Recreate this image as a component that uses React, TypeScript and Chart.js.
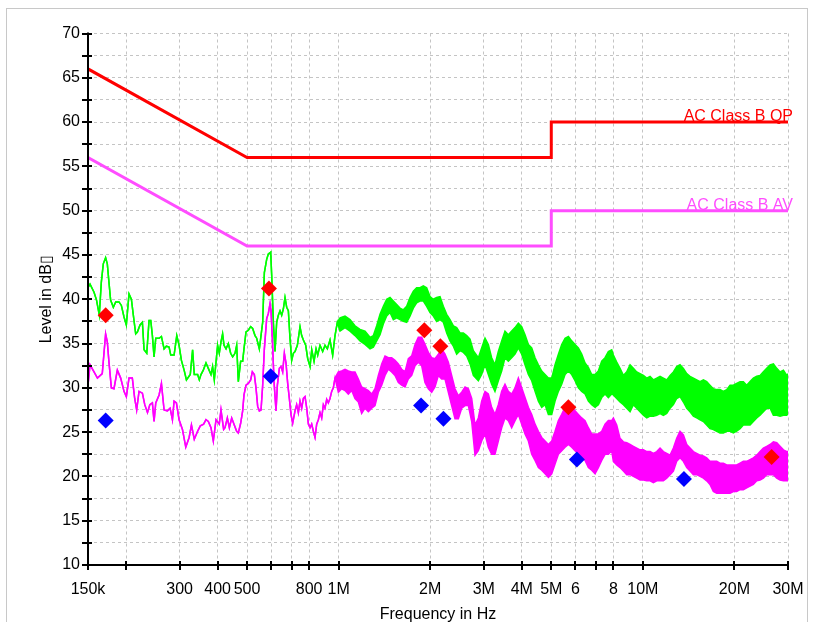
import React, { useEffect, useRef } from 'react';
import { Chart, registerables } from 'chart.js';

Chart.register(...registerables);

// ---------- axes ----------
const xTickValues = [0.15, 0.2, 0.3, 0.4, 0.5, 0.6, 0.7, 0.8, 1, 2, 3, 4, 5, 6, 7, 8, 10, 20, 30];
const xTickLabels = ['150k', '', '300', '400', '500', '', '', '800', '1M', '2M', '3M', '4M', '5M', '6', '', '8', '10M', '20M', '30M'];
const yMin = 10;
const yMax = 70;
const yStep = 2.5;

// ---------- limit lines (MHz, dBµV) ----------
const qpLimit: [number, number][] = [[0.15, 66], [0.5, 56], [5, 56], [5, 60], [30, 60]];
const avLimit: [number, number][] = [[0.15, 56], [0.5, 46], [5, 46], [5, 50], [30, 50]];
const qpLimitLabel = 'AC Class B QP';
const avLimitLabel = 'AC Class B AV';

// ---------- final measurement markers ----------
const qpMarkers: [number, number][] = [[0.1715, 38.2], [0.59, 41.2], [1.913, 36.5], [2.16, 34.7], [5.69, 27.8], [26.5, 22.2]];
const avMarkers: [number, number][] = [[0.1715, 26.3], [0.598, 31.3], [1.866, 28.0], [2.21, 26.5], [6.07, 21.9], [13.65, 19.7]];

// ---------- peak scan (green) ----------
const peakLine: [number, number][] = [
  [0.15, 41.3], [0.1523, 41.7], [0.157, 40.8], [0.16, 39.9], [0.1634, 38.2], [0.1659, 41.9], [0.1684, 44.0], [0.1714, 44.7],
  [0.1736, 44.0], [0.1758, 41.9], [0.178, 39.9], [0.1817, 39.1], [0.185, 39.7], [0.1897, 39.7], [0.1931, 39.3], [0.197, 38.0],
  [0.2005, 37.1], [0.2046, 40.6], [0.2083, 40.0], [0.2114, 38.2], [0.2152, 36.1], [0.218, 36.3], [0.2224, 37.1], [0.2264, 37.4],
  [0.2293, 34.3], [0.234, 33.9], [0.2381, 37.6], [0.2412, 37.6], [0.2442, 35.9], [0.2473, 33.5], [0.2505, 35.6], [0.2569, 35.6],
  [0.2615, 35.8], [0.2668, 34.4], [0.2715, 34.7], [0.2771, 34.6], [0.2806, 33.7], [0.2878, 33.7], [0.2937, 35.9], [0.2989, 34.8],
  [0.3042, 33.1], [0.3105, 32.0], [0.316, 30.9], [0.3253, 31.5], [0.3311, 34.3], [0.3353, 31.5], [0.3439, 31.5], [0.3483, 30.9],
  [0.3528, 31.5], [0.359, 32.0], [0.3664, 32.8], [0.3729, 32.2], [0.3805, 31.5], [0.3852, 32.4], [0.3902, 30.9], [0.4001, 34.8],
  [0.4052, 33.9], [0.4104, 35.2], [0.4155, 36.1], [0.42, 34.8], [0.4264, 34.4], [0.434, 35.0], [0.4416, 33.9], [0.4484, 33.5],
  [0.4563, 33.9], [0.4622, 34.8], [0.468, 30.7], [0.4763, 33.0], [0.4836, 33.0], [0.4885, 34.4], [0.496, 36.3], [0.5048, 36.5],
  [0.5138, 36.9], [0.5216, 36.7], [0.531, 35.9], [0.5377, 35.6], [0.5487, 34.4], [0.5543, 35.6], [0.5627, 37.4], [0.5699, 43.0],
  [0.58, 44.5], [0.5874, 45.1], [0.5979, 45.3], [0.6024, 42.7], [0.6101, 37.4], [0.6178, 34.1], [0.6256, 37.4], [0.6336, 38.2],
  [0.6417, 38.7], [0.6497, 38.2], [0.658, 38.9], [0.6663, 40.2], [0.6748, 39.1], [0.6834, 38.7], [0.692, 35.6], [0.7008, 33.1],
  [0.7098, 33.9], [0.7188, 34.1], [0.7316, 34.8], [0.7465, 36.9], [0.756, 35.9], [0.7657, 35.4], [0.7793, 34.8], [0.7912, 33.3],
  [0.8054, 32.4], [0.8157, 34.3], [0.8301, 33.0], [0.8428, 34.4], [0.8534, 33.7], [0.8685, 34.8], [0.8862, 34.1], [0.902, 34.8],
  [0.918, 34.4], [0.9367, 35.4], [0.9558, 33.7], [0.9729, 35.9], [0.9902, 37.4],
];
// dense part of the peak scan: [frequency, upper, lower]
const peakBand: [number, number, number][] = [
  [1.0104, 37.9, 36.4], [1.0494, 38.1, 36.8], [1.0899, 37.7, 36.4], [1.1318, 37.0, 35.9], [1.1754, 36.6, 35.3], [1.2208, 36.4, 34.9],
  [1.2679, 35.7, 34.4], [1.3005, 35.9, 34.6], [1.3337, 37.0, 35.3], [1.3678, 38.3, 36.0], [1.4025, 39.2, 37.2], [1.4385, 40.0, 38.1],
  [1.4752, 40.2, 38.5], [1.5129, 39.8, 37.7], [1.5516, 39.4, 37.9], [1.5911, 39.0, 37.7], [1.6318, 38.8, 37.5], [1.6735, 39.2, 37.4],
  [1.7161, 40.2, 38.1], [1.76, 40.9, 39.0], [1.8048, 41.3, 39.6], [1.851, 41.3, 39.8], [1.8984, 41.5, 39.8], [1.9469, 41.3, 39.2],
  [1.9967, 40.3, 38.5], [2.0474, 40.0, 38.1], [2.1, 40.2, 37.5], [2.154, 40.3, 37.7], [2.2088, 39.2, 37.4], [2.2655, 38.3, 36.2],
  [2.3232, 37.7, 35.3], [2.3828, 37.0, 34.7], [2.4434, 36.8, 33.8], [2.506, 36.2, 34.2], [2.57, 36.2, 34.0], [2.636, 35.9, 33.6],
  [2.703, 35.5, 32.7], [2.772, 34.2, 31.4], [2.879, 33.4, 30.8], [2.952, 34.5, 31.5], [3.028, 35.6, 32.6], [3.105, 34.9, 31.5],
  [3.184, 33.4, 30.4], [3.265, 32.6, 29.6], [3.349, 34.1, 30.8], [3.435, 35.3, 31.9], [3.522, 36.4, 33.4], [3.612, 36.0, 33.0],
  [3.705, 36.4, 33.4], [3.8, 36.8, 33.8], [3.897, 37.3, 34.5], [3.997, 36.9, 33.8], [4.099, 36.0, 32.6], [4.204, 34.9, 31.5],
  [4.312, 34.5, 30.8], [4.422, 33.4, 29.6], [4.535, 32.6, 28.5], [4.651, 31.9, 27.8], [4.77, 31.5, 28.1], [4.892, 31.1, 27.0],
  [5.017, 31.1, 27.0], [5.145, 32.6, 28.5], [5.277, 33.8, 29.6], [5.411, 34.9, 30.4], [5.55, 35.6, 31.5], [5.692, 35.8, 31.9],
  [5.836, 35.3, 31.5], [5.985, 34.9, 30.8], [6.138, 34.5, 30.0], [6.295, 33.8, 29.6], [6.456, 32.8, 29.3], [6.621, 32.3, 28.5],
  [6.79, 31.5, 28.1], [6.963, 31.5, 27.8], [7.141, 31.9, 28.1], [7.324, 33.0, 28.9], [7.511, 33.4, 29.3], [7.703, 34.1, 28.9],
  [7.899, 34.3, 29.3], [8.0, 33.7, 29.2], [8.205, 32.9, 28.8], [8.414, 32.2, 28.4], [8.63, 31.4, 28.1], [8.852, 31.8, 27.7],
  [9.077, 32.6, 27.3], [9.309, 32.2, 28.1], [9.546, 31.8, 27.7], [9.791, 31.6, 27.3], [10.04, 31.4, 26.9], [10.3, 31.1, 26.6],
  [10.56, 31.3, 26.8], [10.83, 30.9, 26.8], [11.11, 31.1, 26.9], [11.39, 31.3, 27.1], [11.68, 31.1, 26.9], [11.98, 30.9, 27.1],
  [12.29, 31.4, 27.7], [12.6, 31.8, 28.1], [12.92, 32.4, 28.8], [13.25, 32.6, 29.0], [13.59, 32.2, 28.4], [13.94, 31.6, 27.7],
  [14.29, 31.3, 27.3], [14.66, 31.1, 26.8], [15.03, 30.9, 26.6], [15.42, 30.7, 26.4], [15.81, 30.9, 26.2], [16.21, 30.7, 25.8],
  [16.62, 30.3, 25.4], [17.05, 29.9, 25.3], [17.49, 29.8, 25.1], [17.93, 29.8, 24.9], [18.39, 29.6, 24.9], [18.86, 29.8, 25.1],
  [19.35, 30.3, 25.1], [19.84, 30.3, 24.9], [20.34, 30.5, 25.1], [20.87, 30.7, 25.4], [21.4, 30.7, 25.8], [21.94, 30.3, 25.8],
  [22.51, 30.7, 25.8], [23.08, 31.1, 26.2], [23.68, 31.3, 26.6], [24.28, 31.4, 26.9], [24.9, 31.8, 27.3], [25.54, 32.2, 27.7],
  [26.19, 32.6, 27.7], [26.86, 32.7, 26.9], [27.55, 32.2, 26.9], [28.25, 31.8, 26.8], [28.98, 32.0, 26.9], [29.72, 31.4, 26.9],
  [30, 31.6, 27.1],
];

// ---------- average scan (magenta) ----------
const avgLine: [number, number][] = [
  [0.15, 30.3], [0.1523, 32.6], [0.157, 31.8], [0.1611, 31.1], [0.1671, 31.6], [0.1714, 36.1], [0.1736, 35.2], [0.1758, 32.9],
  [0.179, 30.0], [0.1826, 29.9], [0.1873, 32.0], [0.1921, 31.1], [0.197, 29.6], [0.2005, 29.0], [0.2046, 31.1], [0.2098, 31.1],
  [0.2136, 28.8], [0.2168, 27.5], [0.2207, 29.6], [0.2264, 29.4], [0.2305, 28.1], [0.2353, 27.2], [0.2395, 28.1], [0.2442, 28.3],
  [0.2473, 26.2], [0.2505, 28.3], [0.2569, 29.2], [0.2615, 30.5], [0.2668, 27.5], [0.2736, 27.4], [0.2792, 27.7], [0.2842, 26.4],
  [0.2878, 28.5], [0.2929, 28.3], [0.2989, 26.4], [0.3066, 25.3], [0.3144, 23.3], [0.3225, 24.4], [0.3282, 25.8], [0.3353, 24.2],
  [0.3439, 25.1], [0.351, 25.7], [0.3599, 25.9], [0.3663, 26.4], [0.3729, 26.2], [0.3805, 25.5], [0.3873, 24.0], [0.3953, 26.4],
  [0.4052, 25.9], [0.4104, 27.5], [0.4187, 25.3], [0.4231, 25.5], [0.4307, 26.6], [0.4373, 25.5], [0.4451, 26.6], [0.4529, 25.9],
  [0.4622, 25.1], [0.468, 24.9], [0.4763, 26.0], [0.4836, 27.4], [0.4885, 29.2], [0.496, 30.3], [0.5048, 30.5], [0.5138, 30.9],
  [0.5203, 31.8], [0.5283, 31.5], [0.535, 30.0], [0.5418, 27.9], [0.5487, 27.4], [0.5557, 27.5], [0.5627, 30.3], [0.5699, 34.4],
  [0.58, 37.8], [0.5874, 38.4], [0.5949, 39.5], [0.5994, 38.7], [0.6054, 35.6], [0.6132, 30.7], [0.6225, 27.4], [0.6289, 30.3],
  [0.6384, 32.2], [0.6466, 32.4], [0.6547, 31.8], [0.663, 33.9], [0.6714, 32.8], [0.68, 30.5], [0.6885, 28.8], [0.6972, 27.0],
  [0.7061, 26.0], [0.7188, 27.4], [0.7278, 28.1], [0.7371, 27.2], [0.7465, 28.5], [0.756, 27.7], [0.7657, 28.8], [0.7754, 29.0],
  [0.7853, 27.7], [0.7952, 25.9], [0.8054, 25.5], [0.8154, 25.9], [0.8258, 25.1], [0.8363, 24.4], [0.8469, 25.9], [0.8577, 26.4],
  [0.8685, 27.2], [0.8796, 26.6], [0.8907, 28.1], [0.902, 27.7], [0.9135, 28.7], [0.9249, 28.3], [0.9367, 28.8], [0.9486, 29.6],
  [0.9606, 30.0], [0.9729, 31.1],
];
const avgBand: [number, number, number][] = [
  [0.9978, 31.8, 29.5], [1.0233, 31.9, 29.9], [1.0494, 32.1, 29.7], [1.0761, 31.9, 29.3], [1.1037, 31.8, 29.7], [1.1318, 31.8, 28.8],
  [1.1609, 31.0, 28.4], [1.1903, 30.1, 27.1], [1.2208, 29.9, 27.7], [1.2522, 29.7, 27.3], [1.2842, 29.3, 27.7], [1.317, 29.9, 28.0],
  [1.3506, 31.4, 29.5], [1.3853, 32.7, 30.3], [1.4205, 33.6, 31.4], [1.4568, 33.4, 32.1], [1.4939, 33.4, 31.8], [1.5321, 33.1, 31.4],
  [1.5714, 32.7, 30.6], [1.6113, 32.1, 30.3], [1.6526, 31.8, 30.1], [1.6947, 33.3, 31.0], [1.7382, 33.6, 31.4], [1.7828, 34.9, 32.5],
  [1.8279, 35.7, 32.9], [1.8747, 35.7, 32.5], [1.9223, 34.9, 30.6], [1.9715, 34.0, 29.9], [2.022, 33.4, 29.5], [2.0735, 33.3, 30.1],
  [2.1266, 33.8, 31.4], [2.1809, 34.4, 31.0], [2.2368, 33.8, 31.0], [2.2941, 32.9, 29.5], [2.3523, 31.4, 28.0], [2.4126, 29.9, 26.5],
  [2.4744, 29.1, 26.5], [2.5379, 29.5, 27.7], [2.603, 30.1, 28.0], [2.6693, 29.9, 28.0], [2.7377, 28.8, 26.2], [2.8073, 25.8, 22.4],
  [2.879, 26.6, 22.9], [2.952, 28.5, 24.0], [3.028, 29.6, 24.8], [3.105, 29.3, 23.3], [3.184, 27.8, 22.5], [3.265, 27.0, 22.5],
  [3.349, 28.1, 24.0], [3.435, 29.6, 25.5], [3.522, 30.4, 26.6], [3.612, 29.6, 26.3], [3.705, 29.3, 25.5], [3.8, 30.0, 26.3],
  [3.897, 31.1, 27.0], [3.997, 30.0, 25.9], [4.099, 28.9, 24.8], [4.204, 27.8, 24.0], [4.312, 27.0, 22.5], [4.422, 25.9, 21.8],
  [4.535, 25.1, 21.0], [4.651, 24.4, 20.7], [4.77, 24.0, 20.3], [4.892, 23.6, 19.9], [5.017, 24.0, 20.3], [5.145, 25.1, 21.4],
  [5.277, 26.3, 22.5], [5.411, 27.0, 22.9], [5.55, 27.8, 23.3], [5.692, 28.1, 23.6], [5.836, 27.8, 23.3], [5.985, 27.4, 22.9],
  [6.138, 27.0, 22.5], [6.295, 26.6, 22.2], [6.456, 26.3, 21.8], [6.621, 25.5, 21.0], [6.79, 24.8, 20.7], [6.963, 24.8, 20.3],
  [7.141, 24.8, 21.0], [7.324, 25.1, 21.8], [7.511, 25.9, 22.5], [7.703, 26.3, 22.5], [7.899, 26.3, 22.9], [8.0, 26.6, 21.7],
  [8.205, 25.8, 21.3], [8.414, 24.3, 21.0], [8.63, 23.9, 20.6], [8.852, 23.8, 20.2], [9.077, 23.6, 20.2], [9.309, 23.4, 20.0],
  [9.546, 23.2, 19.8], [9.791, 23.0, 19.6], [10.04, 23.0, 19.6], [10.3, 22.8, 19.5], [10.56, 22.8, 19.5], [10.83, 22.6, 19.3],
  [11.11, 22.8, 19.5], [11.39, 23.2, 19.5], [11.68, 22.8, 19.5], [11.98, 22.6, 19.8], [12.29, 22.4, 20.2], [12.6, 23.2, 20.6],
  [12.92, 24.3, 21.7], [13.25, 25.1, 22.1], [13.59, 24.7, 21.7], [13.94, 23.6, 21.0], [14.29, 23.2, 20.6], [14.66, 22.8, 20.2],
  [15.03, 22.6, 20.2], [15.42, 22.4, 20.0], [15.81, 22.3, 19.8], [16.21, 22.1, 19.5], [16.62, 21.7, 19.1], [17.05, 21.7, 18.3],
  [17.49, 21.7, 18.1], [17.93, 21.5, 18.1], [18.39, 21.5, 18.1], [18.86, 21.3, 18.1], [19.35, 21.3, 18.1], [19.84, 21.3, 18.3],
  [20.34, 21.3, 18.3], [20.87, 21.5, 18.5], [21.4, 21.7, 18.5], [21.94, 21.7, 18.7], [22.51, 21.9, 18.9], [23.08, 22.1, 19.1],
  [23.68, 22.4, 19.5], [24.28, 22.8, 19.6], [24.9, 23.2, 19.8], [25.54, 23.4, 20.2], [26.19, 23.6, 20.2], [26.86, 23.9, 20.2],
  [27.55, 23.8, 19.8], [28.25, 23.4, 19.6], [28.98, 23.0, 19.5], [29.72, 22.8, 19.5], [30, 22.8, 19.5],
];

const yTitle = 'Level in dB\u25AF';
const xTitle = 'Frequency in Hz';

const GREEN = '#00ff00';
const MAGENTA = '#ff00ff';
const AV_LIMIT_COLOR = '#ff4dff';
const RED = '#ff0000';
const BLUE = '#0000ff';
const GRID = '#c4c4c4';
const SANS = "'Liberation Sans', Arial, sans-serif";

const pts = (a: [number, number][]) => a.map(([x, y]) => ({ x, y }));
const upper = (line: [number, number][], band: [number, number, number][]) => [...pts(line), ...band.map(([x, h]) => ({ x, y: h }))];
const lower = (line: [number, number][], band: [number, number, number][]) => [...pts(line), ...band.map(([x, , l]) => ({ x, y: l }))];

const decorPlugin = {
  id: 'decor',
  beforeDraw(chart: any) {
    const ctx = chart.ctx;
    ctx.save();
    ctx.fillStyle = '#ffffff';
    ctx.fillRect(0, 0, chart.width, chart.height);
    ctx.strokeStyle = '#c8c8c8';
    ctx.lineWidth = 1;
    ctx.strokeRect(6.5, 8.5, 801, 700);
    ctx.restore();
  },
  afterDraw(chart: any) {
    const { ctx, chartArea, scales } = chart;
    const { left, right, top, bottom } = chartArea;
    const xs = scales.x;
    const ys = scales.y;
    ctx.save();
    ctx.strokeStyle = '#000';
    ctx.lineWidth = 2;
    ctx.beginPath();
    ctx.moveTo(left, top - 1);
    ctx.lineTo(left, bottom);
    ctx.lineTo(right, bottom);
    ctx.stroke();
    ctx.beginPath();
    for (let v = yMin; v <= yMax + 1e-9; v += yStep) {
      const y = Math.round(ys.getPixelForValue(v));
      ctx.moveTo(left - 6, y);
      ctx.lineTo(left + 4, y);
    }
    for (const v of xTickValues) {
      const x = Math.round(xs.getPixelForValue(v));
      ctx.moveTo(x, bottom - 4);
      ctx.lineTo(x, bottom + 5);
    }
    ctx.stroke();

    // limit labels
    ctx.font = `16px ${SANS}`;
    ctx.textAlign = 'right';
    ctx.textBaseline = 'alphabetic';
    ctx.fillStyle = RED;
    ctx.fillText(qpLimitLabel, right + 5, ys.getPixelForValue(qpLimit[qpLimit.length - 1][1]) - 1);
    ctx.fillStyle = AV_LIMIT_COLOR;
    ctx.fillText(avLimitLabel, right + 5, ys.getPixelForValue(avLimit[avLimit.length - 1][1]) - 1);

    // axis titles
    ctx.fillStyle = '#000';
    ctx.font = `16px ${SANS}`;
    ctx.textAlign = 'center';
    ctx.textBaseline = 'alphabetic';
    ctx.fillText(xTitle, (left + right) / 2, 619);
    ctx.save();
    ctx.translate(51, (top + bottom) / 2);
    ctx.rotate(-Math.PI / 2);
    ctx.fillText(yTitle, 0, 0);
    ctx.restore();
    ctx.restore();
  },
};

export default function App() {
  const ref = useRef<HTMLCanvasElement | null>(null);
  useEffect(() => {
    if (!ref.current) return;
    const lineBase = { pointRadius: 0, tension: 0, fill: false };
    const marker = { showLine: false, pointStyle: 'rectRot', pointRadius: 8, pointHoverRadius: 8, pointBorderWidth: 0, order: 0 };
    const chart = new Chart(ref.current, {
      type: 'line',
      data: {
        datasets: [
          { ...marker, data: pts(qpMarkers), pointBackgroundColor: RED, pointBorderColor: RED },
          { ...marker, data: pts(avMarkers), pointBackgroundColor: BLUE, pointBorderColor: BLUE },
          { ...lineBase, data: pts(qpLimit), borderColor: RED, borderWidth: 3, order: 1 },
          { ...lineBase, data: pts(avLimit), borderColor: AV_LIMIT_COLOR, borderWidth: 3, order: 1 },
          { ...lineBase, data: upper(avgLine, avgBand), borderColor: MAGENTA, borderWidth: 1.5, order: 2 },
          { ...lineBase, data: lower(avgLine, avgBand), borderColor: MAGENTA, borderWidth: 1.5, fill: '-1', backgroundColor: MAGENTA, order: 2 },
          { ...lineBase, data: upper(peakLine, peakBand), borderColor: GREEN, borderWidth: 1.5, order: 3 },
          { ...lineBase, data: lower(peakLine, peakBand), borderColor: GREEN, borderWidth: 1.5, fill: '-1', backgroundColor: GREEN, order: 3 },
        ] as any,
      },
      options: {
        responsive: false,
        animation: false,
        devicePixelRatio: 1,
        layout: { padding: { left: 0, right: 25, top: 33.5, bottom: 0 } },
        plugins: { legend: { display: false }, tooltip: { enabled: false } },
        scales: {
          x: {
            type: 'logarithmic',
            min: 0.15,
            max: 30,
            afterBuildTicks: (s: any) => { s.ticks = xTickValues.map((value) => ({ value })); },
            afterFit: (s: any) => { s.height = 57; },
            grid: { color: GRID, lineWidth: 1, drawTicks: false, borderDash: [3, 3] } as any,
            border: { display: false, dash: [3, 3] },
            ticks: {
              autoSkip: false, maxRotation: 0, minRotation: 0, padding: 7, color: '#000',
              font: { family: SANS, size: 16, lineHeight: 2.25 },
              callback: (_v: any, i: number) => xTickLabels[i] ?? '',
            },
          },
          y: {
            type: 'linear',
            min: yMin,
            max: yMax,
            afterFit: (s: any) => { s.width = 88; },
            grid: { color: GRID, lineWidth: 1, drawTicks: false, borderDash: [3, 3] } as any,
            border: { display: false, dash: [3, 3] },
            ticks: {
              stepSize: yStep, autoSkip: false, padding: 8, color: '#000',
              font: { family: SANS, size: 16 },
              callback: (v: any) => (Number(v) % 5 === 0 ? String(v) : ''),
            },
          },
        },
      } as any,
      plugins: [decorPlugin],
    });
    return () => chart.destroy();
  }, []);
  return (
    <div style={{ position: 'absolute', left: 0, top: 0, width: 813, height: 622, overflow: 'hidden' }}>
      <canvas ref={ref} width={813} height={622} style={{ display: 'block' }} />
    </div>
  );
}
